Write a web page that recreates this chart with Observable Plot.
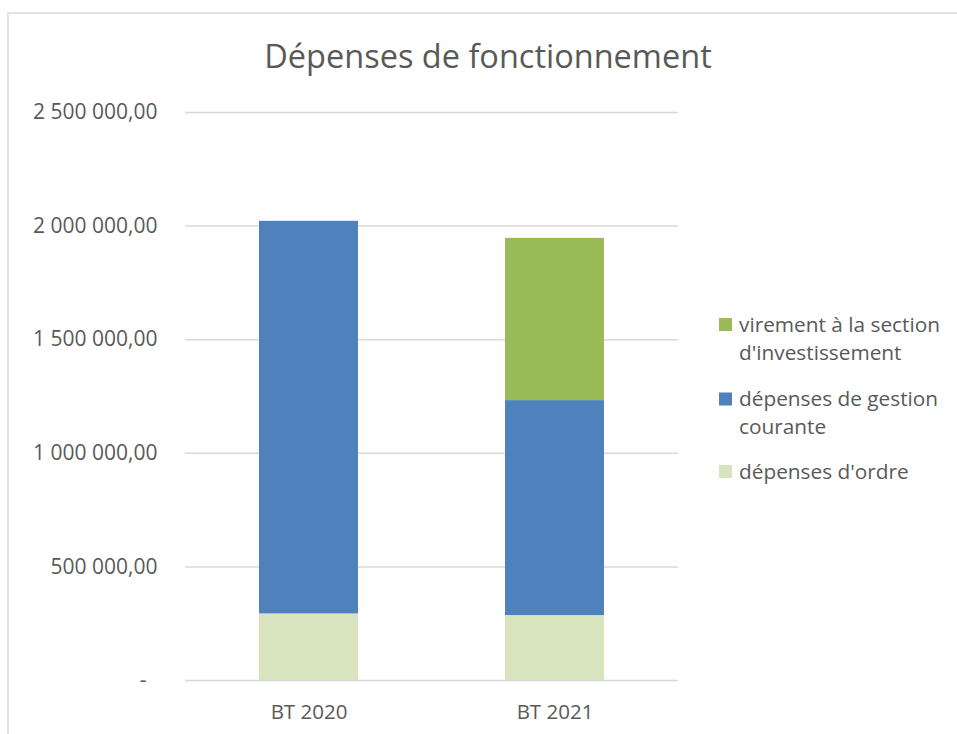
<!DOCTYPE html>
<html><head><meta charset="utf-8">
<script src="https://cdn.jsdelivr.net/npm/d3@7"></script>
<script src="https://cdn.jsdelivr.net/npm/@observablehq/plot@0.6"></script>
<style>html,body{margin:0;padding:0;background:#fff;} svg{display:block}</style>
</head><body><div id="chart"></div>
<script>
// ---- data ----
const categories = ["BT 2020", "BT 2021"];
const series = ["dépenses d'ordre", "dépenses de gestion courante", "virement à la section d'investissement"];
const ordre = [293000, 286000];
const gestion = [1728000, 946000];
const virement = [0, 714000];
const yTicks = [0, 500000, 1000000, 1500000, 2000000, 2500000];
const colors = ["#D7E4BD", "#4F81BD", "#9BBB59"];
const legendItems = [
  {series: "virement à la section d'investissement", lines: ["virement à la section", "d'investissement"]},
  {series: "dépenses de gestion courante", lines: ["dépenses de gestion", "courante"]},
  {series: "dépenses d'ordre", lines: ["dépenses d'ordre"]}
];
const title = "Dépenses de fonctionnement";

const rows = [];
categories.forEach((c, i) => {
  rows.push({cat: c, series: series[0], value: ordre[i]});
  rows.push({cat: c, series: series[1], value: gestion[i]});
  rows.push({cat: c, series: series[2], value: virement[i]});
});

const fmt = v => v === 0 ? "-\u00a0\u00a0" : d3.format(",.2f")(v).replace(/,/g, "\u00a0").replace(".", ",");
const textColor = "#595959";
const font = "Open Sans";

const plot = Plot.plot({
  width: 957, height: 734,
  marginLeft: 185, marginRight: 279, marginTop: 112, marginBottom: 54,
  style: {fontFamily: font, color: textColor, background: "#fff", overflow: "visible"},
  x: {domain: categories, paddingInner: 0.598, paddingOuter: 0.299, label: null, axis: null},
  y: {domain: [0, 2500000], label: null, axis: null},
  color: {domain: series, range: colors},
  marks: [
    Plot.ruleY(yTicks, {stroke: "#d9d9d9", strokeWidth: 1.5}),
    Plot.barY(rows.filter(d => d.value > 0), {x: "cat", y: "value", fill: "series"}),
    Plot.axisY(yTicks, {tickSize: 0, tickPadding: 28, tickFormat: fmt, fontSize: 21, label: null, fill: textColor}),
    Plot.axisX({tickSize: 0, tickPadding: 24, fontSize: 20.5, label: null, fill: textColor})
  ]
});

const svg = d3.select(plot);
// chart border
svg.append("rect").attr("x", 8).attr("y", 13).attr("width", 1000).attr("height", 1000)
  .attr("fill", "none").attr("stroke", "#d9d9d9").attr("stroke-width", 1.5);
// title
svg.append("text").attr("x", 488).attr("y", 68).attr("text-anchor", "middle")
  .attr("font-family", font).attr("font-size", 32.5).attr("fill", textColor).text(title);
// legend
const color = plot.scale("color");
const legendY = [324.5, 399, 471.5];
const lg = svg.append("g").attr("font-family", font).attr("font-size", 20.8).attr("fill", textColor)
  .attr("text-anchor", "start");
legendItems.forEach((it, i) => {
  lg.append("rect").attr("x", 719).attr("y", legendY[i] - 6.5).attr("width", 13).attr("height", 13)
    .attr("fill", color.apply(it.series));
  it.lines.forEach((ln, j) => {
    lg.append("text").attr("x", 739).attr("y", legendY[i] + j * 28).attr("dy", "0.35em").text(ln);
  });
});

document.getElementById("chart").appendChild(plot);
</script>
</body></html>
